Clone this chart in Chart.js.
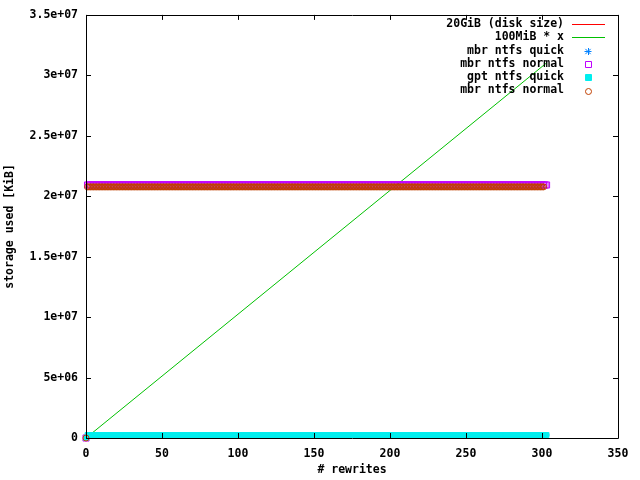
<!DOCTYPE html>
<html>
<head>
<meta charset="utf-8">
<script src="https://cdn.jsdelivr.net/npm/chart.js@4/dist/chart.umd.min.js"></script>
<style>
html,body{margin:0;padding:0;background:#fff;}
canvas{display:block;}
</style>
</head>
<body>
<canvas id="c" width="640" height="480"></canvas>
<script>
// ---- data ----
const rewrites = [
0,1,2,3,4,5,6,7,8,9,10,11,12,13,14,15,16,17,18,19,
20,21,22,23,24,25,26,27,28,29,30,31,32,33,34,35,36,37,38,39,
40,41,42,43,44,45,46,47,48,49,50,51,52,53,54,55,56,57,58,59,
60,61,62,63,64,65,66,67,68,69,70,71,72,73,74,75,76,77,78,79,
80,81,82,83,84,85,86,87,88,89,90,91,92,93,94,95,96,97,98,99,
100,101,102,103,104,105,106,107,108,109,110,111,112,113,114,115,116,117,118,119,
120,121,122,123,124,125,126,127,128,129,130,131,132,133,134,135,136,137,138,139,
140,141,142,143,144,145,146,147,148,149,150,151,152,153,154,155,156,157,158,159,
160,161,162,163,164,165,166,167,168,169,170,171,172,173,174,175,176,177,178,179,
180,181,182,183,184,185,186,187,188,189,190,191,192,193,194,195,196,197,198,199,
200,201,202,203,204,205,206,207,208,209,210,211,212,213,214,215,216,217,218,219,
220,221,222,223,224,225,226,227,228,229,230,231,232,233,234,235,236,237,238,239,
240,241,242,243,244,245,246,247,248,249,250,251,252,253,254,255,256,257,258,259,
260,261,262,263,264,265,266,267,268,269,270,271,272,273,274,275,276,277,278,279,
280,281,282,283,284,285,286,287,288,289,290,291,292,293,294,295,296,297,298,299,
300,301,302,303
];

// reference lines (two end points each)
const lineX = [0, 303];
const diskSize = [20971520, 20971520];
const hundredMiBx = [0, 31027200];

const mbrNtfsQuick = [0,
248000,248000,248000,248000,248000,248000,248000,248000,248000,248000,
248000,248000,248000,248000,248000,248000,248000,248000,248000,248000,
248000,248000,248000,248000,248000,248000,248000,248000,248000,248000,
248000,248000,248000,248000,248000,248000,248000,248000,248000,248000,
248000,248000,248000,248000,248000,248000,248000,248000,248000,248000,
248000,248000,248000,248000,248000,248000,248000,248000,248000,248000,
248000,248000,248000,248000,248000,248000,248000,248000,248000,248000,
248000,248000,248000,248000,248000,248000,248000,248000,248000,248000,
248000,248000,248000,248000,248000,248000,248000,248000,248000,248000,
248000,248000,248000,248000,248000,248000,248000,248000,248000,248000,
248000,248000,248000,248000,248000,248000,248000,248000,248000,248000,
248000,248000,248000,248000,248000,248000,248000,248000,248000,248000,
248000,248000,248000,248000,248000,248000,248000,248000,248000,248000,
248000,248000,248000,248000,248000,248000,248000,248000,248000,248000,
248000,248000,248000,248000,248000,248000,248000,248000,248000,248000,
248000,248000,248000,248000,248000,248000,248000,248000,248000,248000,
248000,248000,248000,248000,248000,248000,248000,248000,248000,248000,
248000,248000,248000,248000,248000,248000,248000,248000,248000,248000,
248000,248000,248000,248000,248000,248000,248000,248000,248000,248000,
248000,248000,248000,248000,248000,248000,248000,248000,248000,248000,
248000,248000,248000,248000,248000,248000,248000,248000,248000,248000,
248000,248000,248000,248000,248000,248000,248000,248000,248000,248000,
248000,248000,248000,248000,248000,248000,248000,248000,248000,248000,
248000,248000,248000,248000,248000,248000,248000,248000,248000,248000,
248000,248000,248000,248000,248000,248000,248000,248000,248000,248000,
248000,248000,248000,248000,248000,248000,248000,248000,248000,248000,
248000,248000,248000,248000,248000,248000,248000,248000,248000,248000,
248000,248000,248000,248000,248000,248000,248000,248000,248000,248000,
248000,248000,248000,248000,248000,248000,248000,248000,248000,248000,
248000,248000,248000,248000,248000,248000,248000,248000,248000,248000,
248000,248000,248000
];

const mbrNtfsNormalA = [0,
20930000,20930000,20930000,20930000,20930000,20930000,20930000,20930000,20930000,20930000,
20930000,20930000,20930000,20930000,20930000,20930000,20930000,20930000,20930000,20930000,
20930000,20930000,20930000,20930000,20930000,20930000,20930000,20930000,20930000,20930000,
20930000,20930000,20930000,20930000,20930000,20930000,20930000,20930000,20930000,20930000,
20930000,20930000,20930000,20930000,20930000,20930000,20930000,20930000,20930000,20930000,
20930000,20930000,20930000,20930000,20930000,20930000,20930000,20930000,20930000,20930000,
20930000,20930000,20930000,20930000,20930000,20930000,20930000,20930000,20930000,20930000,
20930000,20930000,20930000,20930000,20930000,20930000,20930000,20930000,20930000,20930000,
20930000,20930000,20930000,20930000,20930000,20930000,20930000,20930000,20930000,20930000,
20930000,20930000,20930000,20930000,20930000,20930000,20930000,20930000,20930000,20930000,
20930000,20930000,20930000,20930000,20930000,20930000,20930000,20930000,20930000,20930000,
20930000,20930000,20930000,20930000,20930000,20930000,20930000,20930000,20930000,20930000,
20930000,20930000,20930000,20930000,20930000,20930000,20930000,20930000,20930000,20930000,
20930000,20930000,20930000,20930000,20930000,20930000,20930000,20930000,20930000,20930000,
20930000,20930000,20930000,20930000,20930000,20930000,20930000,20930000,20930000,20930000,
20930000,20930000,20930000,20930000,20930000,20930000,20930000,20930000,20930000,20930000,
20930000,20930000,20930000,20930000,20930000,20930000,20930000,20930000,20930000,20930000,
20930000,20930000,20930000,20930000,20930000,20930000,20930000,20930000,20930000,20930000,
20930000,20930000,20930000,20930000,20930000,20930000,20930000,20930000,20930000,20930000,
20930000,20930000,20930000,20930000,20930000,20930000,20930000,20930000,20930000,20930000,
20930000,20930000,20930000,20930000,20930000,20930000,20930000,20930000,20930000,20930000,
20930000,20930000,20930000,20930000,20930000,20930000,20930000,20930000,20930000,20930000,
20930000,20930000,20930000,20930000,20930000,20930000,20930000,20930000,20930000,20930000,
20930000,20930000,20930000,20930000,20930000,20930000,20930000,20930000,20930000,20930000,
20930000,20930000,20930000,20930000,20930000,20930000,20930000,20930000,20930000,20930000,
20930000,20930000,20930000,20930000,20930000,20930000,20930000,20930000,20930000,20930000,
20930000,20930000,20930000,20930000,20930000,20930000,20930000,20930000,20930000,20930000,
20930000,20930000,20930000,20930000,20930000,20930000,20930000,20930000,20930000,20930000,
20930000,20930000,20930000,20930000,20930000,20930000,20930000,20930000,20930000,20930000,
20930000,20930000,20930000,20930000,20930000,20930000,20930000,20930000,20930000,20930000,
20930000,20930000,20930000
];

const gptNtfsQuick = [0,
248000,248000,248000,248000,248000,248000,248000,248000,248000,248000,
248000,248000,248000,248000,248000,248000,248000,248000,248000,248000,
248000,248000,248000,248000,248000,248000,248000,248000,248000,248000,
248000,248000,248000,248000,248000,248000,248000,248000,248000,248000,
248000,248000,248000,248000,248000,248000,248000,248000,248000,248000,
248000,248000,248000,248000,248000,248000,248000,248000,248000,248000,
248000,248000,248000,248000,248000,248000,248000,248000,248000,248000,
248000,248000,248000,248000,248000,248000,248000,248000,248000,248000,
248000,248000,248000,248000,248000,248000,248000,248000,248000,248000,
248000,248000,248000,248000,248000,248000,248000,248000,248000,248000,
248000,248000,248000,248000,248000,248000,248000,248000,248000,248000,
248000,248000,248000,248000,248000,248000,248000,248000,248000,248000,
248000,248000,248000,248000,248000,248000,248000,248000,248000,248000,
248000,248000,248000,248000,248000,248000,248000,248000,248000,248000,
248000,248000,248000,248000,248000,248000,248000,248000,248000,248000,
248000,248000,248000,248000,248000,248000,248000,248000,248000,248000,
248000,248000,248000,248000,248000,248000,248000,248000,248000,248000,
248000,248000,248000,248000,248000,248000,248000,248000,248000,248000,
248000,248000,248000,248000,248000,248000,248000,248000,248000,248000,
248000,248000,248000,248000,248000,248000,248000,248000,248000,248000,
248000,248000,248000,248000,248000,248000,248000,248000,248000,248000,
248000,248000,248000,248000,248000,248000,248000,248000,248000,248000,
248000,248000,248000,248000,248000,248000,248000,248000,248000,248000,
248000,248000,248000,248000,248000,248000,248000,248000,248000,248000,
248000,248000,248000,248000,248000,248000,248000,248000,248000,248000,
248000,248000,248000,248000,248000,248000,248000,248000,248000,248000,
248000,248000,248000,248000,248000,248000,248000,248000,248000,248000,
248000,248000,248000,248000,248000,248000,248000,248000,248000,248000,
248000,248000,248000,248000,248000,248000,248000,248000,248000,248000,
248000,248000,248000,248000,248000,248000,248000,248000,248000,248000,
248000,248000,248000
];

const mbrNtfsNormalB = [0,
20770000,20770000,20770000,20770000,20770000,20770000,20770000,20770000,20770000,20770000,
20770000,20770000,20770000,20770000,20770000,20770000,20770000,20770000,20770000,20770000,
20770000,20770000,20770000,20770000,20770000,20770000,20770000,20770000,20770000,20770000,
20770000,20770000,20770000,20770000,20770000,20770000,20770000,20770000,20770000,20770000,
20770000,20770000,20770000,20770000,20770000,20770000,20770000,20770000,20770000,20770000,
20770000,20770000,20770000,20770000,20770000,20770000,20770000,20770000,20770000,20770000,
20770000,20770000,20770000,20770000,20770000,20770000,20770000,20770000,20770000,20770000,
20770000,20770000,20770000,20770000,20770000,20770000,20770000,20770000,20770000,20770000,
20770000,20770000,20770000,20770000,20770000,20770000,20770000,20770000,20770000,20770000,
20770000,20770000,20770000,20770000,20770000,20770000,20770000,20770000,20770000,20770000,
20770000,20770000,20770000,20770000,20770000,20770000,20770000,20770000,20770000,20770000,
20770000,20770000,20770000,20770000,20770000,20770000,20770000,20770000,20770000,20770000,
20770000,20770000,20770000,20770000,20770000,20770000,20770000,20770000,20770000,20770000,
20770000,20770000,20770000,20770000,20770000,20770000,20770000,20770000,20770000,20770000,
20770000,20770000,20770000,20770000,20770000,20770000,20770000,20770000,20770000,20770000,
20770000,20770000,20770000,20770000,20770000,20770000,20770000,20770000,20770000,20770000,
20770000,20770000,20770000,20770000,20770000,20770000,20770000,20770000,20770000,20770000,
20770000,20770000,20770000,20770000,20770000,20770000,20770000,20770000,20770000,20770000,
20770000,20770000,20770000,20770000,20770000,20770000,20770000,20770000,20770000,20770000,
20770000,20770000,20770000,20770000,20770000,20770000,20770000,20770000,20770000,20770000,
20770000,20770000,20770000,20770000,20770000,20770000,20770000,20770000,20770000,20770000,
20770000,20770000,20770000,20770000,20770000,20770000,20770000,20770000,20770000,20770000,
20770000,20770000,20770000,20770000,20770000,20770000,20770000,20770000,20770000,20770000,
20770000,20770000,20770000,20770000,20770000,20770000,20770000,20770000,20770000,20770000,
20770000,20770000,20770000,20770000,20770000,20770000,20770000,20770000,20770000,20770000,
20770000,20770000,20770000,20770000,20770000,20770000,20770000,20770000,20770000,20770000,
20770000,20770000,20770000,20770000,20770000,20770000,20770000,20770000,20770000,20770000,
20770000,20770000,20770000,20770000,20770000,20770000,20770000,20770000,20770000,20770000,
20770000,20770000,20770000,20770000,20770000,20770000,20770000,20770000,20770000,20770000,
20770000,20770000,20770000,20770000,20770000,20770000,20770000,20770000,20770000,20770000,
20770000
];

const legendLabels = ['20GiB (disk size)', '100MiB * x', 'mbr ntfs quick', 'mbr ntfs normal', 'gpt ntfs quick', 'mbr ntfs normal'];
const xTickLabels = ['0', '50', '100', '150', '200', '250', '300', '350'];
const yTickLabels = ['0', '5e+06', '1e+07', '1.5e+07', '2e+07', '2.5e+07', '3e+07', '3.5e+07'];
const xTitle = '# rewrites';
const yTitle = 'storage used [KiB]';

// ---- styling ----
const FONT_FAMILY = '"DejaVu Sans Mono", "Liberation Mono", monospace';
const FONT_SIZE = 11.5;
const FONT_CSS = 'bold ' + FONT_SIZE + 'px ' + FONT_FAMILY;
const colors = ['#ff0000', '#00c000', '#0080ff', '#c000ff', '#00eeee', '#c04000'];
const sampleKinds = ['line', 'line', 'star', 'openRect', 'fillRect', 'openCircle'];

const pts = (xs, ys) => xs.map((x, i) => ({x: x, y: ys[i]}));

const frame = {
  id: 'gnuFrame',
  afterDraw(chart) {
    const ctx = chart.ctx;
    const a = chart.chartArea;
    const xs = chart.scales.x, ys = chart.scales.y;
    ctx.save();
    ctx.strokeStyle = '#000';
    ctx.lineWidth = 1;
    ctx.beginPath();
    ctx.rect(Math.round(a.left) + 0.5, Math.round(a.top) + 0.5, Math.round(a.right - a.left), Math.round(a.bottom - a.top));
    const TL = 5;
    xs.ticks.forEach(t => {
      const px = Math.round(xs.getPixelForValue(t.value)) + 0.5;
      ctx.moveTo(px, a.bottom); ctx.lineTo(px, a.bottom - TL);
      ctx.moveTo(px, a.top); ctx.lineTo(px, a.top + TL);
    });
    ys.ticks.forEach(t => {
      const py = Math.round(ys.getPixelForValue(t.value)) + 0.5;
      ctx.moveTo(a.left, py); ctx.lineTo(a.left + TL, py);
      ctx.moveTo(a.right, py); ctx.lineTo(a.right - TL, py);
    });
    ctx.stroke();

    // key (gnuplot style: text right-aligned, sample on the right)
    ctx.font = FONT_CSS;
    ctx.textAlign = 'right';
    ctx.textBaseline = 'middle';
    const textRight = 564, sx0 = 572, sx1 = 605, sxc = 588;
    legendLabels.forEach((lab, i) => {
      const y = 24 + i * 13.3;
      ctx.fillStyle = '#000';
      ctx.fillText(lab, textRight, y);
      const c = colors[i];
      ctx.strokeStyle = c;
      ctx.fillStyle = c;
      ctx.lineWidth = 1;
      const yy = Math.round(y) + 0.5;
      const k = sampleKinds[i];
      ctx.beginPath();
      if (k === 'line') {
        ctx.moveTo(sx0, yy); ctx.lineTo(sx1, yy); ctx.stroke();
      } else if (k === 'star') {
        const r = 3.5;
        ctx.moveTo(sxc - r, yy); ctx.lineTo(sxc + r, yy);
        ctx.moveTo(sxc + 0.5, yy - r); ctx.lineTo(sxc + 0.5, yy + r);
        ctx.moveTo(sxc - r * 0.75, yy - r * 0.75); ctx.lineTo(sxc + r * 0.75, yy + r * 0.75);
        ctx.moveTo(sxc - r * 0.75, yy + r * 0.75); ctx.lineTo(sxc + r * 0.75, yy - r * 0.75);
        ctx.stroke();
      } else if (k === 'openRect') {
        ctx.rect(sxc - 3 + 0.5, yy - 3, 6, 6); ctx.stroke();
      } else if (k === 'fillRect') {
        ctx.rect(sxc - 3 + 0.5, yy - 3, 6, 6); ctx.fill(); ctx.stroke();
      } else {
        ctx.arc(sxc + 0.5, yy, 3, 0, Math.PI * 2); ctx.stroke();
      }
    });
    ctx.restore();
  }
};

const tickFont = { family: FONT_FAMILY, size: FONT_SIZE, weight: 'bold' };

new Chart(document.getElementById('c'), {
  type: 'line',
  data: {
    labels: rewrites,
    datasets: [
      { label: legendLabels[0], data: pts(lineX, diskSize), borderColor: colors[0], borderWidth: 1, pointRadius: 0, order: 6, clip: false },
      { label: legendLabels[1], data: pts(lineX, hundredMiBx), borderColor: colors[1], borderWidth: 1, pointRadius: 0, order: 5, clip: false },
      { label: legendLabels[2], data: mbrNtfsQuick, showLine: false, pointStyle: 'star', pointRadius: 3, borderColor: colors[2], pointBorderColor: colors[2], pointBorderWidth: 1, order: 4, clip: false },
      { label: legendLabels[3], data: mbrNtfsNormalA, showLine: false, pointStyle: 'rect', pointRadius: 4.3, borderColor: colors[3], pointBorderColor: colors[3], pointBackgroundColor: 'rgba(0,0,0,0)', pointBorderWidth: 1, order: 3, clip: false },
      { label: legendLabels[4], data: gptNtfsQuick, showLine: false, pointStyle: 'rect', pointRadius: 3.4, borderColor: colors[4], pointBorderColor: colors[4], pointBackgroundColor: colors[4], pointBorderWidth: 1, order: 2, clip: false },
      { label: legendLabels[5], data: mbrNtfsNormalB, showLine: false, pointStyle: 'circle', pointRadius: 3, borderColor: colors[5], pointBorderColor: colors[5], pointBackgroundColor: 'rgba(0,0,0,0)', pointBorderWidth: 1, order: 1, clip: false }
    ]
  },
  options: {
    responsive: false,
    animation: false,
    events: [],
    layout: { padding: { top: 14, right: 22, left: 0, bottom: 0 } },
    plugins: { legend: { display: false }, tooltip: { enabled: false } },
    scales: {
      x: {
        type: 'linear', min: 0, max: 350,
        afterFit(s) { s.height = 42; },
        grid: { display: false, drawTicks: false },
        border: { display: false },
        ticks: { stepSize: 50, padding: 9, color: '#000', font: tickFont,
          maxRotation: 0, autoSkip: false,
          callback: (v, i) => xTickLabels[i] },
        title: { display: true, text: xTitle, color: '#000', padding: { top: 0, bottom: 3 }, font: tickFont }
      },
      y: {
        type: 'linear', min: 0, max: 35000000,
        afterFit(s) { s.width = 86; },
        grid: { display: false, drawTicks: false },
        border: { display: false },
        ticks: { stepSize: 5000000, padding: 8, color: '#000', font: tickFont,
          autoSkip: false,
          callback: (v, i) => yTickLabels[i] },
        title: { display: true, text: yTitle, color: '#000', padding: { top: 3, bottom: 0 }, font: tickFont }
      }
    }
  },
  plugins: [frame]
});
</script>
</body>
</html>
